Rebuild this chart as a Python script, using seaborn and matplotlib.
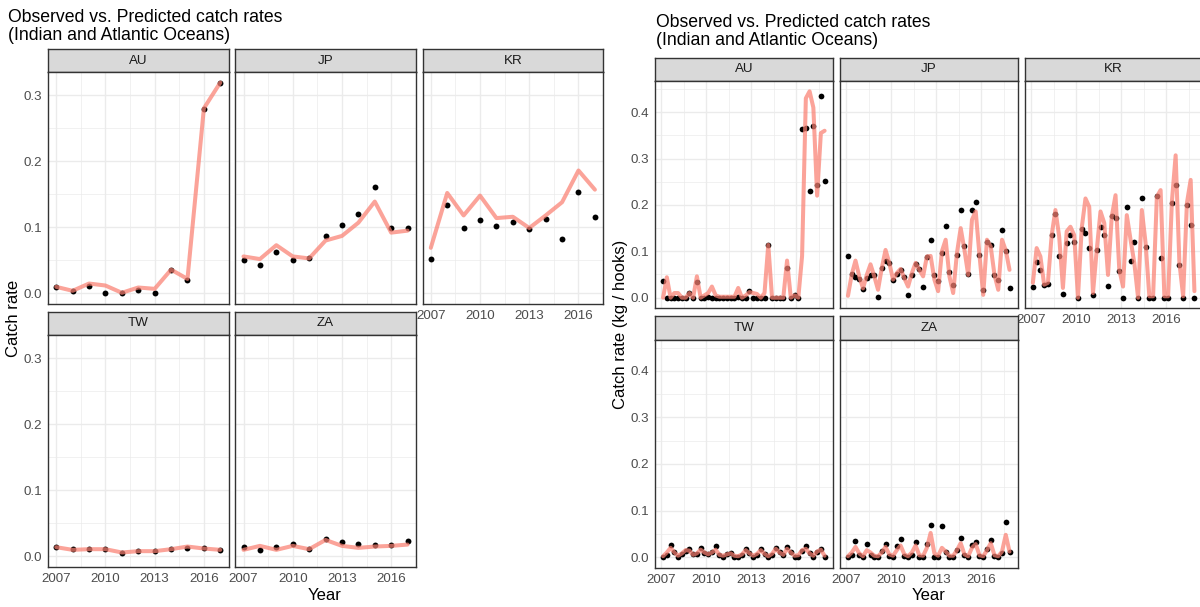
import numpy as np
import pandas as pd
import matplotlib
matplotlib.use("Agg")
import matplotlib.pyplot as plt
import seaborn as sns
from matplotlib.ticker import FixedLocator, NullFormatter

sns.set_theme(style="white")
plt.rcParams['font.family'] = ['Liberation Sans', 'DejaVu Sans']

# ---------------- data ----------------
countries = ["AU", "JP", "KR", "TW", "ZA"]
years = list(range(2007, 2018))
quarters = [1, 2, 3, 4]

# Annual (left chart)
ann_obs_AU = [0.010, 0.003, 0.011, 0.000, 0.000, 0.005, 0.000, 0.035, 0.021, 0.279, 0.319]
ann_pred_AU = [0.010, 0.004, 0.015, 0.012, 0.001, 0.009, 0.007, 0.036, 0.022, 0.280, 0.319]
ann_obs_JP = [0.051, 0.043, 0.063, 0.050, 0.053, 0.087, 0.104, 0.120, 0.161, 0.099, 0.099]
ann_pred_JP = [0.056, 0.052, 0.073, 0.056, 0.053, 0.080, 0.087, 0.107, 0.139, 0.092, 0.095]
ann_obs_KR = [0.052, 0.134, 0.099, 0.111, 0.102, 0.108, 0.097, 0.112, 0.082, 0.153, 0.116]
ann_pred_KR = [0.069, 0.152, 0.118, 0.148, 0.114, 0.116, 0.099, 0.118, 0.138, 0.186, 0.157]
ann_obs_TW = [0.0137, 0.011, 0.012, 0.012, 0.0056, 0.008, 0.008, 0.011, 0.013, 0.013, 0.0096]
ann_pred_TW = [0.014, 0.010, 0.011, 0.011, 0.006, 0.008, 0.008, 0.011, 0.015, 0.012, 0.010]
ann_obs_ZA = [0.0137, 0.010, 0.0137, 0.019, 0.011, 0.027, 0.022, 0.019, 0.017, 0.017, 0.024]
ann_pred_ZA = [0.010, 0.016, 0.010, 0.016, 0.011, 0.025, 0.016, 0.013, 0.015, 0.016, 0.018]

# Quarterly (right chart), 2007 Q1 ... 2017 Q4
q_obs_AU = [0.035, 0, 0, 0, 0, 0, 0, 0.011, 0, 0.034, 0, 0, 0.002, 0, 0, 0, 0, 0, 0, 0, 0.001, 0,
            0, 0.015, 0, 0, 0, 0, 0.114, 0, 0, 0, 0, 0.063, 0, 0.006, 0, 0.363, 0.365, 0.231, 0.370,
            0.244, 0.435, 0.251]
q_pred_AU = [0.0, 0.044, 0.0, 0.010, 0.010, 0.0, 0.0, 0.010, 0.0, 0.046, 0.0, 0.005, 0.010, 0.024,
             0.005, 0.002, 0.002, 0.002, 0.002, 0.002, 0.021, 0.0, 0.005, 0.012, 0.010, 0.008, 0.0,
             0.010, 0.114, 0.0, 0.0, 0.0, 0.0, 0.080, 0.0, 0.005, 0.0, 0.090, 0.430, 0.445, 0.410,
             0.220, 0.355, 0.360]
q_obs_JP = [0.090, 0.050, 0.045, 0.041, 0.018, 0.043, 0.049, 0.048, 0.001, 0.064, 0.079, 0.075,
            0.039, 0.050, 0.059, 0.045, 0.006, 0.049, 0.072, 0.062, 0.024, 0.087, 0.124, 0.048,
            0.037, 0.097, 0.154, 0.055, 0.027, 0.093, 0.188, 0.111, 0.050, 0.189, 0.206, 0.092,
            0.016, 0.120, 0.113, 0.048, 0.039, 0.146, 0.100, 0.020]
q_pred_JP = [0.004, 0.050, 0.080, 0.046, 0.020, 0.049, 0.072, 0.046, 0.017, 0.064, 0.103, 0.075,
             0.039, 0.053, 0.062, 0.042, 0.024, 0.053, 0.075, 0.060, 0.046, 0.089, 0.090, 0.039,
             0.014, 0.100, 0.125, 0.046, 0.010, 0.096, 0.150, 0.103, 0.049, 0.168, 0.186, 0.092,
             0.006, 0.125, 0.110, 0.049, 0.017, 0.125, 0.102, 0.060]
q_obs_KR = [0.024, 0.077, 0.059, 0.027, 0.030, 0.135, 0.181, 0.089, 0.008, 0.118, 0.135, 0.119,
            0.0, 0.148, 0.139, 0.107, 0.005, 0.102, 0.153, 0.135, 0.026, 0.176, 0.171, 0.058,
            0.0, 0.196, 0.080, 0.119, 0.0, 0.216, 0.110, 0.0, 0.0, 0.219, 0.085, 0.0, 0.0, 0.204,
            0.244, 0.070, 0.0, 0.199, 0.156, 0.0]
q_pred_KR = [0.032, 0.107, 0.089, 0.028, 0.032, 0.135, 0.189, 0.132, 0.021, 0.143, 0.153, 0.135,
             0.0, 0.150, 0.214, 0.196, 0.010, 0.103, 0.186, 0.161, 0.049, 0.175, 0.221, 0.060,
             0.024, 0.178, 0.125, 0.075, 0.0, 0.189, 0.118, 0.003, 0.003, 0.218, 0.232, 0.003,
             0.003, 0.207, 0.307, 0.075, 0.003, 0.204, 0.254, 0.014]
q_obs_TW = [0.0, 0.004, 0.027, 0.011, 0.0, 0.007, 0.014, 0.018, 0.007, 0.006, 0.020, 0.009,
            0.007, 0.010, 0.023, 0.004, 0.001, 0.006, 0.009, 0.0, 0.0, 0.004, 0.018, 0.009,
            0.001, 0.005, 0.017, 0.006, 0.0, 0.004, 0.020, 0.011, 0.005, 0.022, 0.011, 0.001,
            0.001, 0.014, 0.023, 0.009, 0.0, 0.011, 0.017, 0.0]
q_pred_TW = [0.002, 0.010, 0.020, 0.010, 0.003, 0.008, 0.015, 0.014, 0.005, 0.008, 0.016, 0.010,
             0.006, 0.010, 0.016, 0.005, 0.003, 0.006, 0.008, 0.003, 0.002, 0.006, 0.015, 0.008,
             0.003, 0.007, 0.015, 0.007, 0.002, 0.007, 0.018, 0.010, 0.005, 0.018, 0.010, 0.003,
             0.004, 0.015, 0.018, 0.008, 0.003, 0.012, 0.016, 0.003]
q_obs_ZA = [0.0, 0.005, 0.035, 0.005, 0.0, 0.028, 0.005, 0.0, 0.0, 0.014, 0.028, 0.002,
            0.0, 0.024, 0.039, 0.002, 0.0, 0.004, 0.032, 0.0, 0.0, 0.029, 0.068, 0.0,
            0.0, 0.067, 0.012, 0.0, 0.0, 0.016, 0.041, 0.004, 0.0, 0.025, 0.032, 0.002,
            0.0, 0.017, 0.036, 0.002, 0.0, 0.009, 0.075, 0.012]
q_pred_ZA = [0.002, 0.010, 0.022, 0.008, 0.002, 0.015, 0.010, 0.003, 0.002, 0.010, 0.022, 0.006,
             0.003, 0.015, 0.025, 0.006, 0.002, 0.010, 0.025, 0.004, 0.003, 0.020, 0.052, 0.008,
             0.003, 0.020, 0.012, 0.003, 0.003, 0.015, 0.030, 0.006, 0.002, 0.020, 0.028, 0.004,
             0.002, 0.015, 0.030, 0.004, 0.002, 0.012, 0.048, 0.012]

ann_obs = dict(AU=ann_obs_AU, JP=ann_obs_JP, KR=ann_obs_KR, TW=ann_obs_TW, ZA=ann_obs_ZA)
ann_pred = dict(AU=ann_pred_AU, JP=ann_pred_JP, KR=ann_pred_KR, TW=ann_pred_TW, ZA=ann_pred_ZA)
q_obs = dict(AU=q_obs_AU, JP=q_obs_JP, KR=q_obs_KR, TW=q_obs_TW, ZA=q_obs_ZA)
q_pred = dict(AU=q_pred_AU, JP=q_pred_JP, KR=q_pred_KR, TW=q_pred_TW, ZA=q_pred_ZA)

rows = []
for c in countries:
    for i, y in enumerate(years):
        rows.append(dict(chart="annual", country=c, time=y, obs=ann_obs[c][i], pred=ann_pred[c][i]))
    k = 0
    for y in years:
        for q in quarters:
            rows.append(dict(chart="quarterly", country=c, time=y + (q - 0.5) / 4,
                             obs=q_obs[c][k], pred=q_pred[c][k]))
            k += 1
df = pd.DataFrame(rows)

# ---------------- layout ----------------
W, H = 1200, 607
fig = plt.figure(figsize=(W / 100, H / 100), dpi=100)
fig.patch.set_facecolor("white")

TICK_C = "#4D4D4D"
BORDER = "#333333"
GRID = "#EBEBEB"
LINE_C = "#FA8072"
TICK_FS = 9.6


def px_axes(x0, y0, x1, y1):
    return fig.add_axes([x0 / W, 1 - y1 / H, (x1 - x0) / W, (y1 - y0) / H])


def strip(x0, y0, x1, y1, label):
    a = px_axes(x0, y0, x1, y1)
    a.set_facecolor("#D9D9D9")
    a.set_xticks([]); a.set_yticks([])
    for s in a.spines.values():
        s.set_color(BORDER); s.set_linewidth(1.0)
    a.text(0.5, 0.5, label, ha="center", va="center", fontsize=9.6, color="#1A1A1A",
           transform=a.transAxes)


def panel(chart, country, box, xlim, ylim, yticks, ylabels, xmajor, xminor, yminor,
          show_x, show_y, msize):
    x0, y0, x1, y1 = box
    ax = px_axes(x0, y0, x1, y1)
    ax.set_facecolor("white")
    sub = df[(df.chart == chart) & (df.country == country)]
    sns.scatterplot(data=sub, x="time", y="obs", color="black", s=msize, linewidth=0,
                    ax=ax, zorder=3, legend=False)
    sns.lineplot(data=sub, x="time", y="pred", color=LINE_C, alpha=0.72, linewidth=2.9,
                 estimator=None, sort=True, ax=ax, zorder=4, legend=False)
    ax.set_xlim(*xlim); ax.set_ylim(*ylim)
    ax.xaxis.set_major_locator(FixedLocator(xmajor))
    ax.xaxis.set_minor_locator(FixedLocator(xminor))
    ax.yaxis.set_major_locator(FixedLocator(yticks))
    ax.yaxis.set_minor_locator(FixedLocator(yminor))
    ax.grid(which="major", color=GRID, linewidth=1.0, zorder=0)
    ax.grid(which="minor", color=GRID, linewidth=0.5, zorder=0)
    ax.set_axisbelow(True)
    for s in ax.spines.values():
        s.set_color(BORDER); s.set_linewidth(1.0)
    ax.set_xlabel(""); ax.set_ylabel("")
    ax.tick_params(which="minor", length=0)
    ax.tick_params(axis="x", which="major", direction="out", length=3 if show_x else 0,
                   width=0.8, color=BORDER, labelsize=TICK_FS, labelcolor=TICK_C, pad=1.5,
                   labelbottom=show_x)
    ax.tick_params(axis="y", which="major", direction="out", length=3 if show_y else 0,
                   width=0.8, color=BORDER, labelsize=TICK_FS, labelcolor=TICK_C, pad=1.5,
                   labelleft=show_y)
    if show_x:
        ax.set_xticklabels([str(v) for v in xmajor])
    if show_y:
        ax.set_yticklabels(ylabels)
    else:
        ax.yaxis.set_major_formatter(NullFormatter())
    return ax


def facet_chart(chart, origin_x, col_w, gap, strip_h, row1_top, row1_bot, row2_top, row2_bot,
                xlim, yticks, ylabels, xminor, yminor, msize):
    sub = df[df.chart == chart]
    ymax = max(sub.obs.max(), sub.pred.max())
    ylim = (-0.05 * ymax, ymax * 1.05)
    layout = {"AU": (0, 0), "JP": (1, 0), "KR": (2, 0), "TW": (0, 1), "ZA": (1, 1)}
    for c, (col, row) in layout.items():
        x0 = origin_x + col * (col_w + gap)
        x1 = x0 + col_w
        if row == 0:
            top, bot = row1_top, row1_bot
        else:
            top, bot = row2_top, row2_bot
        strip(x0, top - strip_h, x1, top, c)
        show_x = (row == 1) or (c == "KR")
        show_y = (col == 0)
        panel(chart, c, (x0, top, x1, bot), xlim, ylim, yticks, ylabels,
              [2007, 2010, 2013, 2016], xminor, yminor, show_x, show_y, msize)


# Left chart (annual)
facet_chart("annual", 48, 180.5, 6.8, 23, 72, 304, 335, 567,
            (2006.5, 2017.5), [0.0, 0.1, 0.2, 0.3], ["0.0", "0.1", "0.2", "0.3"],
            [2008.5, 2011.5, 2014.5, 2017.5], [0.05, 0.15, 0.25], 18)
# Right chart (quarterly)
facet_chart("quarterly", 655, 177.7, 7.2, 23.5, 81, 308, 339.5, 567.5,
            (2006.5875, 2018.4125), [0.0, 0.1, 0.2, 0.3, 0.4], ["0.0", "0.1", "0.2", "0.3", "0.4"],
            [2008.5, 2011.5, 2014.5, 2017.5], [0.05, 0.15, 0.25, 0.35, 0.45], 17)

# Titles and axis labels
fig.text(8 / W, 1 - 9 / H, "Observed vs. Predicted catch rates\n(Indian and Atlantic Oceans)",
         ha="left", va="top", fontsize=12.7, color="black", linespacing=1.05)
fig.text(656 / W, 1 - 14 / H, "Observed vs. Predicted catch rates\n(Indian and Atlantic Oceans)",
         ha="left", va="top", fontsize=12.7, color="black", linespacing=1.05)
fig.text(14 / W, 1 - 318 / H, "Catch rate", rotation=90, ha="center", va="center",
         fontsize=12, color="black")
fig.text(621 / W, 1 - 324 / H, "Catch rate (kg / hooks)", rotation=90, ha="center", va="center",
         fontsize=12, color="black")
fig.text(325 / W, 1 - 595 / H, "Year", ha="center", va="center", fontsize=12, color="black")
fig.text(929 / W, 1 - 595 / H, "Year", ha="center", va="center", fontsize=12, color="black")

fig.savefig("out.png", dpi=100, facecolor="white")
